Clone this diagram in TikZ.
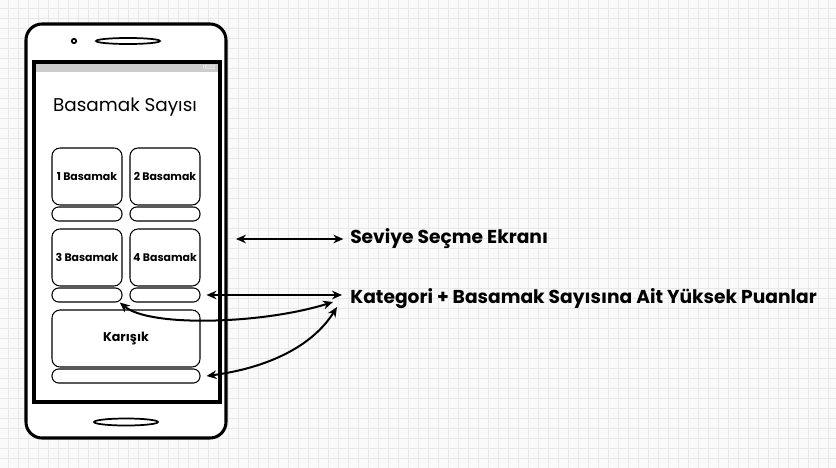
\documentclass[tikz,border=0pt]{standalone}
\usepackage{fontspec}
\setmainfont{Poppins}
\usetikzlibrary{arrows.meta, positioning, calc}
\definecolor{paper}{RGB}{250,250,250}
\definecolor{gridgray}{RGB}{232,232,232}
\definecolor{bargray}{RGB}{204,204,204}
\tikzset{
  tile/.style={draw=black, line width=0.8pt, rounded corners=6pt, fill=white, inner sep=0pt,
               minimum width=52.5pt, minimum height=42.75pt, font=\fontsize{8.2}{10}\selectfont\bfseries},
  pill/.style={draw=black, line width=0.8pt, rounded corners=5pt, fill=white, inner sep=0pt,
               minimum width=52.5pt, minimum height=10.5pt},
  link/.style={line width=1.5pt, {Stealth[length=7.5pt,width=6.5pt]}-{Stealth[length=7.5pt,width=6.5pt]}},
  caption/.style={anchor=west, inner sep=0pt, font=\fontsize{14}{16}\selectfont\bfseries},
}

\begin{document}
\begin{tikzpicture}[x=0.75pt, y=-0.75pt]
    % paper and grid
    \fill[paper] (0,0) rectangle (836,468);
    \useasboundingbox (0,0) rectangle (836,468);
    \foreach \gx in {8,18,...,828} \draw[gridgray, line width=0.7pt] (\gx,0) -- (\gx,468);
    \foreach \gy in {8,18,...,468} \draw[gridgray, line width=0.7pt] (0,\gy) -- (836,\gy);

    % phone body
    \draw[fill=white, line width=2.3pt, rounded corners=12pt] (26,24) rectangle (226,438);
    \draw[line width=1.3pt] (74,41) circle (2.2);
    \draw[line width=1.3pt] (128,41) ellipse (32 and 3);
    \draw[line width=1.3pt] (126,422) ellipse (32 and 3.5);

    % screen
    \draw[fill=white, line width=2.6pt] (34,62) rectangle (220,402);
    \fill[bargray] (35.7,63.7) rectangle (218.3,72);
    \node[text=white, inner sep=0pt, font=\fontsize{4}{4}\selectfont] (clock) at (209,67.5) {15:32};

    \node[font=\fontsize{13.8}{16}\selectfont] (title) at (125,107) {Basamak Sayısı};

    % Block: level tiles
    \node[tile] (t1) at (87,176.5) {1 Basamak};
    \node[pill] (p1) at (87,214) {};
    \node[tile] (t2) at (165,176.5) {2 Basamak};
    \node[pill] (p2) at (165,214) {};
    \node[tile] (t3) at (87,257.5) {3 Basamak};
    \node[pill] (p3) at (87,295) {};
    \node[tile] (t4) at (165,257.5) {4 Basamak};
    \node[pill] (p4) at (165,295) {};
    \node[tile, minimum width=111pt, font=\fontsize{9.5}{11}\selectfont\bfseries] (t5) at (126,338.5) {Karışık};
    \node[pill, minimum width=111pt] (p5) at (126,376) {};

    % Block: notes
    \node[caption] (lab1) at (350,239) {Seviye Seçme Ekranı};
    \node[caption] (lab2) at (350,299) {Kategori + Basamak Sayısına Ait Yüksek Puanlar};

    \coordinate (s1) at (236,239);
    \coordinate (k2) at (342,295);
    \coordinate (k3) at (333,302);
    \coordinate (k4) at (337,307);

    \draw[link, shorten >=5pt] (s1) -- (lab1.west);
    \draw[link] ([xshift=4.5pt]p4.east) -- (k2);
    \draw[link] ([xshift=-2pt]p3.south east) .. controls +(30,25) and +(-70,22) .. (k3);
    \draw[link] ([xshift=4.5pt]p5.east) .. controls +(60,-8) and +(-25,40) .. (k4);
\end{tikzpicture}
\end{document}
